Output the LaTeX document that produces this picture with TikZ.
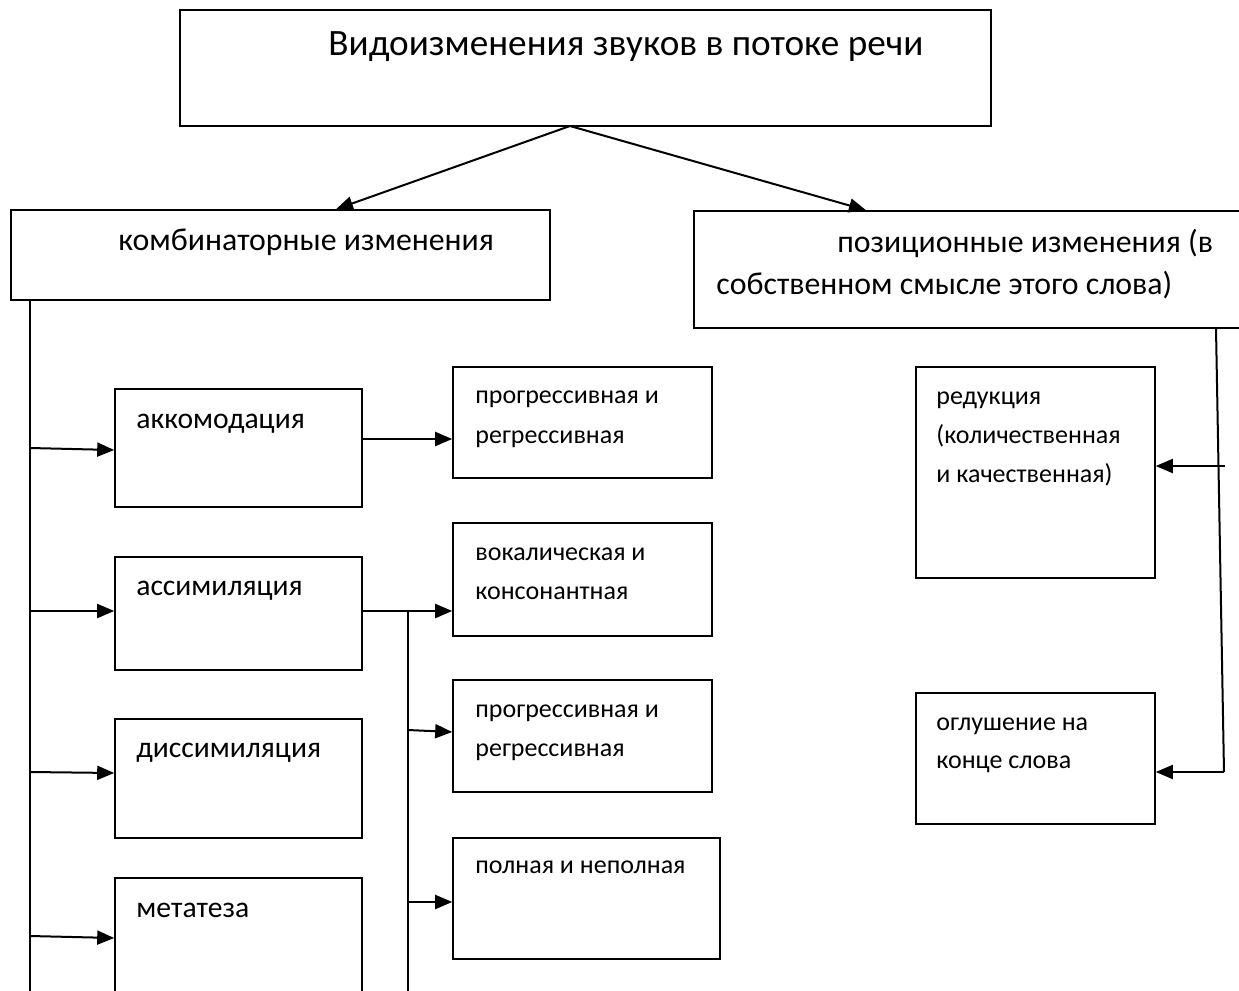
\documentclass[tikz,border=0pt]{standalone}
\usepackage{fontspec}
\setmainfont{Carlito}
\usetikzlibrary{arrows.meta,fit}
\begin{document}
\begin{tikzpicture}[x=0.5pt,y=-0.5pt,
  box/.style={draw,line width=0.8pt,inner sep=0pt},
  txt/.style={anchor=base west,inner sep=0pt,font=\fontsize{13}{16}\selectfont},
  midtxt/.style={anchor=base west,inner sep=0pt,font=\fontsize{14.8}{17}\selectfont},
  bigtxt/.style={anchor=base west,inner sep=0pt,font=\fontsize{15.9}{18}\selectfont},
  titletxt/.style={anchor=base west,inner sep=0pt,font=\fontsize{18.6}{22}\selectfont},
  conn/.style={line width=1pt},
  arr/.style={line width=1pt,-{Triangle[length=8.5pt,width=7pt]}}]
\useasboundingbox (0,0) rectangle (1239,991);

% boxes
\node[box,fit={(180,10) (991,126)}] (top) {};
\node[box,fit={(11,210) (550,300)}] (komb) {};
\node[box,fit={(694,211) (1270,328)}] (pos) {};
\node[box,fit={(115,389) (362,507)}] (akk) {};
\node[box,fit={(453,367) (712,478)}] (prog1) {};
\node[box,fit={(115,557) (362,670)}] (assim) {};
\node[box,fit={(453,523) (712,636)}] (vokal) {};
\node[box,fit={(115,719) (362,838)}] (dissim) {};
\node[box,fit={(453,680) (712,792)}] (prog2) {};
\node[box,fit={(115,878) (362,1020)}] (metat) {};
\node[box,fit={(453,838) (720,959)}] (poln) {};
\node[box,fit={(916,367) (1155,578)}] (redu) {};
\node[box,fit={(916,693) (1155,824)}] (ogl) {};

% texts
\node[titletxt] (t-top) at (328,55) {Видоизменения звуков в потоке речи};
\node[bigtxt] (t-komb) at (118,250) {комбинаторные изменения};
\node[bigtxt] (t-pos1) at (837,252) {позиционные изменения (в};
\node[bigtxt] (t-pos2) at (716,294) {собственном смысле этого слова)};
\node[midtxt] (t-akk) at (136,428) {аккомодация};
\node[txt] (t-prog1a) at (475,403) {прогрессивная и};
\node[txt] (t-prog1b) at (475,443) {регрессивная};
\node[midtxt] (t-assim) at (136,595) {ассимиляция};
\node[txt] (t-vokala) at (475,560) {вокалическая и};
\node[txt] (t-vokalb) at (475,599) {консонантная};
\node[midtxt] (t-dissim) at (136,757) {диссимиляция};
\node[txt] (t-prog2a) at (475,717) {прогрессивная и};
\node[txt] (t-prog2b) at (475,756) {регрессивная};
\node[midtxt] (t-metat) at (136,917) {метатеза};
\node[txt] (t-poln) at (475,873) {полная и неполная};
\node[txt] (t-redua) at (936,404) {редукция};
\node[txt] (t-redub) at (936,443) {(количественная};
\node[txt] (t-reduc) at (936,482) {и качественная)};
\node[txt] (t-ogla) at (936,730) {оглушение на};
\node[txt] (t-oglb) at (936,768) {конце слова};

% named connector points
\coordinate (fork) at (570,126);
\coordinate (lbus-top) at (30,300);
\coordinate (lbus-bot) at (30,1000);
\coordinate (mbus-top) at (408,611);
\coordinate (mbus-bot) at (408,1000);
\coordinate (rbus-top) at (1216,328);
\coordinate (rbus-bot) at (1224,772);

% top arrows
\draw[arr] (fork) -- (336,0 |- komb.north);
\draw[arr] (fork) -- (866,0 |- pos.north);

% left bus
\draw[conn] (lbus-top) -- (lbus-bot);
\draw[arr] (30,448) -- (akk.west |- 0,450);
\draw[arr] (30,611) -- (assim.west |- 0,611);
\draw[arr] (30,772) -- (dissim.west |- 0,773);
\draw[arr] (30,936) -- (metat.west |- 0,938);

% akk -> prog1
\draw[arr] (akk.east |- 0,439) -- (prog1.west |- 0,439);

% assim -> middle bus
\draw[arr] (assim.east |- mbus-top) -- (vokal.west |- mbus-top);
\draw[conn] (mbus-top) -- (mbus-bot);
\draw[arr] (408,730) -- (prog2.west |- 0,732);
\draw[arr] (408,902) -- (poln.west |- 0,902);

% right bus
\draw[conn] (rbus-top) -- (rbus-bot);
\draw[arr] (1225,466) -- (redu.east |- 0,466);
\draw[arr] (rbus-bot) -- (ogl.east |- rbus-bot);
\end{tikzpicture}
\end{document}
